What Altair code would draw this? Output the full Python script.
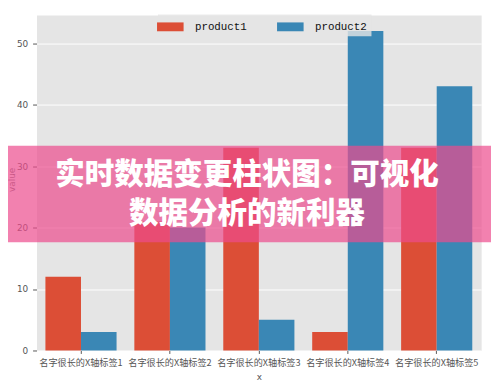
import altair as alt
import pandas as pd

categories = ["名字很长的X轴标签1", "名字很长的X轴标签2", "名字很长的X轴标签3",
              "名字很长的X轴标签4", "名字很长的X轴标签5"]
products = ["product1", "product2"]
product1_values = [12, 21, 33, 3, 33]
product2_values = [3, 20, 5, 52, 43]
y_ticks = [0, 10, 20, 30, 40, 50]
title_lines = ["实时数据变更柱状图：可视化", "数据分析的新利器"]
colors = ["#DC4E36", "#3A87B5"]

rows = []
for c, a, b in zip(categories, product1_values, product2_values):
    rows.append({"x": c, "product": "product1", "value": a})
    rows.append({"x": c, "product": "product2", "value": b})
df = pd.DataFrame(rows)

W, H = 452, 341

bars = alt.Chart(df).mark_bar().encode(
    x=alt.X("x:N", sort=categories,
            scale=alt.Scale(paddingInner=0.2, paddingOuter=0.1),
            axis=alt.Axis(title="x", labelAngle=0, grid=False, domain=False,
                          labelFont="Noto Sans CJK SC", labelFontSize=9.3,
                          labelColor="#555555", tickColor="#555555", tickSize=3,
                          labelPadding=5, titleFont="DejaVu Sans", titleFontSize=9,
                          titleFontWeight="normal", titleColor="#555555",
                          titlePadding=5)),
    xOffset=alt.XOffset("product:N", sort=products,
                        scale=alt.Scale(paddingInner=0, paddingOuter=0)),
    y=alt.Y("value:Q", scale=alt.Scale(domain=[0, 54.6], nice=False),
            axis=alt.Axis(values=y_ticks, title="value", domain=False,
                          grid=True, gridColor="#FFFFFF", gridWidth=1,
                          labelFont="DejaVu Sans", labelFontSize=9,
                          labelColor="#555555", tickColor="#555555", tickSize=4,
                          labelPadding=5, titleFont="DejaVu Sans", titleFontSize=9,
                          titleFontWeight="normal", titleColor="#777777",
                          titleX=-22, titleY=167, titleBaseline="alphabetic",
                          titleAngle=270)),
    color=alt.Color("product:N", sort=products,
                    scale=alt.Scale(domain=products, range=colors),
                    legend=alt.Legend(title=None, orient="none", legendX=123, legendY=-1,
                                      direction="horizontal",
                                      symbolType="M-1.5,-0.5H1.5V0.5H-1.5Z",
                                      symbolSize=324, symbolStrokeWidth=0,
                                      symbolOpacity=1,
                                      labelFont="Liberation Mono", labelFontSize=11,
                                      labelColor="#111111", labelOffset=16,
                                      columnPadding=30, padding=4,
                                      fillColor="rgba(229,229,229,0.8)",
                                      strokeColor="transparent")),
)

banner = alt.Chart(pd.DataFrame({"b": [0]})).mark_rect(
    color="#EC4C8D", opacity=0.7
).encode(
    x=alt.value(-29), x2=alt.value(W + 10), y=alt.value(133), y2=alt.value(231)
)

layers = [bars, banner]
line_y = [163, 202]
for line, yy in zip(title_lines, line_y):
    layers.append(
        alt.Chart(pd.DataFrame({"t": [line]})).mark_text(
            font="Noto Sans CJK SC", fontSize=30, fontWeight=900, color="#FFFFFF",
            align="center", baseline="middle"
        ).encode(text="t:N", x=alt.value(214), y=alt.value(yy))
    )

chart = alt.layer(*layers).properties(
    width=W, height=H,
    autosize=alt.AutoSizeParams(type="none"),
    padding={"left": 29, "top": 4, "right": 10, "bottom": 36},
    background="#FFFFFF",
).configure_view(fill="#E5E5E5", stroke="transparent")

chart.save("out.html", embed_options={"renderer": "svg", "actions": False})
